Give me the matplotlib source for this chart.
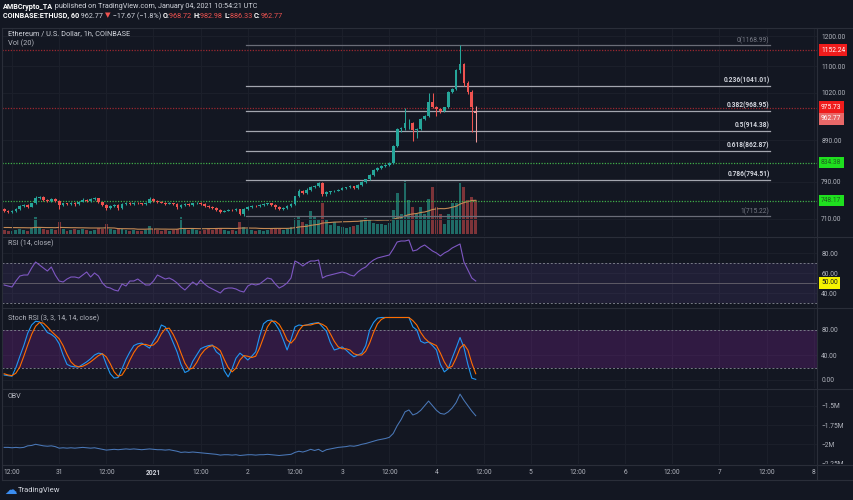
import numpy as np
import matplotlib
matplotlib.use("Agg")
import matplotlib.pyplot as plt
from matplotlib.lines import Line2D
from matplotlib.patches import Rectangle
from matplotlib.transforms import offset_copy

plt.rcParams['font.family'] = ['Roboto', 'DejaVu Sans']

# ---------------- data (hourly candles, hours relative to 2020-12-30 12:00 UTC) ----------------
first_hour = -2
opens = [731, 726, 724, 727, 730, 736, 738, 735, 742, 754, 756, 750, 747, 752, 748, 738, 742, 741, 744, 740,
         746, 750, 747, 751, 753, 745, 739, 733, 737, 739, 732, 740, 743, 740, 744, 742, 740, 743, 752, 748,
         745, 744, 741, 743, 740, 734, 738, 741, 738, 742, 744, 741, 737, 734, 733, 728, 724, 727, 729, 728,
         730, 720, 730, 734, 737, 736, 739, 740, 742, 739, 735, 731, 733, 736, 740, 757, 770, 765, 772, 777,
         780, 787, 762, 766, 768, 770, 772, 775, 777, 780, 776, 782, 790, 795, 805, 818, 822, 826, 829, 833,
         875, 918, 921, 934, 936, 915, 918, 947, 953, 993, 979, 972, 968, 978, 1022, 1030, 1088, 1106, 1049, 1022,
         968.72]
highs = [733, 728, 729, 732, 738, 740, 740, 744, 757, 759, 757, 752, 754, 754, 750, 744, 744, 746, 746, 748,
         753, 752, 753, 755, 754, 746, 740, 739, 741, 741, 742, 745, 745, 746, 746, 744, 745, 755, 753, 750,
         747, 746, 745, 744, 742, 740, 743, 742, 744, 746, 745, 742, 738, 736, 734, 730, 729, 731, 731, 732,
         731, 732, 736, 739, 739, 741, 742, 744, 744, 741, 737, 735, 738, 742, 759, 773, 772, 775, 780, 783,
         790, 789, 768, 770, 772, 774, 777, 779, 782, 781, 784, 792, 797, 808, 820, 825, 829, 832, 836, 877,
         922, 925, 976, 945, 938, 922, 949, 956, 1019, 1019, 983, 975, 980, 1025, 1034, 1092, 1168.99, 1112, 1055, 1028,
         982.98]
lows = [724, 721, 722, 725, 728, 734, 733, 734, 740, 751, 748, 745, 746, 746, 731, 736, 739, 739, 737, 739,
        745, 745, 746, 749, 743, 736, 728, 731, 735, 729, 730, 738, 738, 739, 740, 738, 738, 742, 746, 743,
        742, 739, 740, 738, 731, 732, 736, 736, 737, 741, 739, 735, 732, 731, 726, 721, 723, 726, 726, 727,
        718, 715.22, 729, 733, 735, 735, 737, 739, 737, 731, 728, 729, 731, 734, 738, 755, 762, 763, 770, 775,
        778, 757, 759, 763, 766, 768, 771, 773, 775, 773, 774, 780, 788, 793, 803, 815, 820, 823, 826, 831,
        873, 912, 917, 920, 889, 895, 915, 944, 950, 976, 955, 962, 964, 975, 1018, 1027, 1080, 1040, 1015, 910,
        886.33]
closes = [726, 724, 727, 730, 736, 738, 735, 742, 754, 756, 750, 747, 752, 748, 738, 742, 741, 744, 740, 746,
          750, 747, 751, 753, 745, 739, 733, 737, 739, 732, 740, 743, 740, 744, 742, 740, 743, 752, 748, 745,
          744, 741, 743, 740, 734, 738, 741, 738, 742, 744, 741, 737, 734, 733, 728, 724, 727, 729, 728, 730,
          720, 730, 734, 737, 736, 739, 740, 742, 739, 735, 731, 733, 736, 740, 757, 770, 765, 772, 777, 780,
          787, 762, 766, 768, 770, 772, 775, 777, 780, 776, 782, 790, 795, 805, 818, 822, 826, 829, 833, 875,
          918, 921, 934, 936, 915, 918, 947, 953, 993, 979, 972, 968, 978, 1022, 1030, 1088, 1106, 1049, 1022, 980,
          962.77]
volumes = [4, 3, 3, 4, 5, 4, 3, 6, 17, 6, 5, 4, 5, 4, 12, 5, 3, 4, 5, 4,
           5, 4, 3, 4, 6, 5, 10, 5, 4, 6, 5, 4, 3, 4, 3, 3, 4, 8, 5, 4,
           3, 4, 3, 4, 5, 17, 6, 4, 5, 4, 3, 4, 5, 4, 5, 6, 4, 3, 4, 3,
           12, 7, 5, 4, 3, 4, 3, 4, 5, 6, 5, 4, 5, 7, 16, 18, 12, 10, 23, 17,
           14, 31, 14, 9, 12, 8, 7, 6, 7, 8, 9, 14, 16, 14, 11, 10, 10, 9, 11, 24,
           41, 20, 54, 34, 27, 20, 27, 20, 35, 47, 27, 20, 10, 20, 31, 31, 51, 47, 34, 37,
           34]
vol_ma = [6.5, 6.5, 6.4, 6.4, 6.3, 6.3, 6.2, 6.2, 6.6, 6.6, 6.5, 6.4, 6.4, 6.3, 6.6, 6.5, 6.4, 6.3, 6.3, 6.2,
          6.2, 6.1, 6.0, 6.0, 6.0, 6.0, 6.2, 6.1, 6.0, 5.4, 5.3, 5.3, 5.2, 5.2, 4.8, 4.8, 4.8, 5.0, 5.0, 5.0,
          4.9, 4.9, 4.8, 4.8, 4.8, 5.5, 5.5, 5.5, 5.5, 5.4, 5.3, 5.3, 5.4, 5.4, 5.5, 5.6, 5.6, 5.6, 5.5, 5.5,
          5.9, 6.0, 6.0, 5.9, 5.9, 5.6, 5.5, 5.5, 5.5, 5.6, 5.6, 5.6, 5.6, 5.8, 6.3, 7.0, 7.4, 7.7, 8.6, 9.2,
          9.6, 10.9, 11.3, 11.5, 11.9, 12.0, 12.2, 12.3, 12.4, 12.6, 12.7, 13.1, 13.6, 13.9, 14.1, 13.8, 13.9, 14.0, 13.9, 14.6,
          15.9, 16.3, 18.2, 19.4, 20.1, 20.5, 21.5, 22.0, 23.1, 24.5, 25.1, 25.4, 25.3, 25.8, 26.8, 27.7, 29.9, 31.4, 32.4, 33.5,
          33.7]
rsi = [48, 47, 46, 52, 57, 58, 58, 65, 71, 68, 65, 62, 66, 58, 52, 51, 54, 56, 56, 55,
       58, 61, 56, 60, 57, 50, 46, 45, 43, 42, 49, 47, 52, 52, 54, 51, 48, 48, 52, 58,
       56, 54, 55, 53, 50, 46, 43, 47, 51, 48, 53, 49, 46, 44, 42, 40, 44, 45, 45, 44,
       42, 41, 47, 49, 48, 49, 52, 55, 54, 49, 45, 47, 50, 55, 72, 70, 67, 70, 72, 72,
       73, 55, 57, 58, 59, 60, 61, 60, 58, 57, 61, 64, 66, 70, 73, 75, 76, 77, 78, 84,
       91, 92, 92, 93, 82, 83, 86, 88, 85, 82, 80, 77, 80, 82, 85, 87, 89, 71, 63, 55,
       52]
stoch_k = [8, 7, 6, 20, 38, 55, 75, 88, 94, 93, 85, 76, 73, 68, 58, 40, 25, 22, 21, 21,
           25, 29, 34, 40, 43, 42, 25, 10, 3, 4, 18, 33, 45, 55, 58, 59, 55, 51, 62, 72,
           88, 85, 75, 60, 45, 25, 12, 15, 30, 40, 50, 53, 55, 56, 45, 40, 15, 5, 18, 35,
           43, 38, 32, 38, 45, 70, 90, 95, 96, 90, 80, 65, 48, 65, 85, 88, 87, 88, 90, 91,
           92, 85, 78, 60, 48, 50, 53, 48, 42, 37, 40, 43, 55, 80, 92, 99, 100, 100, 100, 100,
           100, 100, 100, 100, 85, 80, 62, 59, 61, 55, 48, 25, 13, 18, 35, 51, 68, 52, 25, 3,
           1]
stoch_d = [10, 8, 7, 11, 21, 38, 56, 73, 86, 92, 91, 85, 78, 72, 66, 55, 41, 29, 23, 21,
           22, 25, 29, 34, 39, 42, 37, 26, 13, 6, 8, 18, 32, 44, 53, 57, 57, 55, 56, 62,
           74, 82, 83, 73, 60, 43, 27, 17, 19, 28, 40, 48, 53, 55, 52, 47, 33, 20, 13, 19,
           32, 39, 38, 36, 38, 51, 68, 85, 94, 94, 89, 78, 64, 59, 66, 79, 87, 88, 88, 90,
           91, 89, 85, 74, 62, 53, 50, 50, 48, 42, 40, 40, 46, 59, 76, 90, 97, 100, 100, 100,
           100, 100, 100, 100, 95, 88, 76, 67, 61, 58, 55, 43, 29, 19, 22, 35, 51, 57, 48, 27,
           10]
obv = [-2.04, -2.04, -2.045, -2.04, -2.045, -2.04, -2.02, -2.015, -2.0, -2.01, -2.02, -2.025, -2.02, -2.03, -2.05, -2.045, -2.05, -2.045, -2.05, -2.045,
       -2.04, -2.045, -2.05, -2.045, -2.055, -2.065, -2.075, -2.07, -2.065, -2.07, -2.065, -2.06, -2.065, -2.06, -2.065, -2.07, -2.065, -2.06, -2.065, -2.07,
       -2.07, -2.075, -2.07, -2.08, -2.09, -2.105, -2.1, -2.105, -2.1, -2.105, -2.11, -2.115, -2.12, -2.125, -2.13, -2.14, -2.135, -2.135, -2.14, -2.135,
       -2.145, -2.14, -2.135, -2.135, -2.14, -2.135, -2.135, -2.13, -2.135, -2.14, -2.145, -2.14, -2.135, -2.13, -2.105, -2.09, -2.1, -2.085, -2.065, -2.08,
       -2.065, -2.095, -2.07, -2.06, -2.05, -2.04, -2.035, -2.03, -2.02, -2.025, -2.015, -2.0, -1.99, -1.975, -1.96, -1.945, -1.935, -1.925, -1.91, -1.86,
       -1.76, -1.68, -1.58, -1.555, -1.62, -1.6, -1.56, -1.5, -1.44, -1.5, -1.56, -1.6, -1.61, -1.58, -1.53, -1.46, -1.35, -1.43, -1.5, -1.57,
       -1.63]

time_ticks = [0, 12, 24, 36, 48, 60, 72, 84, 96, 108, 120, 132, 144, 156, 168, 180, 192, 204]
time_labels = ['12:00', '31', '12:00', '2021', '12:00', '2', '12:00', '3', '12:00', '4',
               '12:00', '5', '12:00', '6', '12:00', '7', '12:00', '8']
price_ticks = [710, 790, 890, 1020, 1100, 1200]
fib_names = ['0', '0.236', '0.382', '0.5', '0.618', '0.786', '1']
fib_prices = [1168.99, 1041.01, 968.95, 914.38, 862.87, 794.51, 715.22]
resistance_levels = [1152.24, 975.73]
support_levels = [834.38, 748.17]
rsi_ticks = [40, 60, 80]
stoch_ticks = [0, 40, 80]
obv_ticks = [-2.25, -2.0, -1.75, -1.5]
obv_tick_labels = ['\u22122.25M', '\u22122M', '\u22121.75M', '\u22121.5M']

# ---------------- style ----------------
BG = '#131722'
GRID = '#1c202b'
SEP = '#2a2e39'
TXT = '#b2b5be'
UP = '#26a69a'
DN = '#ef5350'
W, H = 854, 500
FS = 4.8

fig = plt.figure(figsize=(W / 100, H / 100), dpi=100, facecolor=BG)


def rect(x0, y0, x1, y1):
    return [x0 / W, 1 - y1 / H, (x1 - x0) / W, (y1 - y0) / H]


X0, X1 = 2, 817
hours = np.arange(len(closes)) + first_hour
xlim = ((X0 - 12) / 3.93, (X1 - 12) / 3.93)

ax_v = fig.add_axes(rect(X0, 28, X1, 236))
ax_p = fig.add_axes(rect(X0, 28, X1, 236))
ax_r = fig.add_axes(rect(X0, 237, X1, 307))
ax_s = fig.add_axes(rect(X0, 309, X1, 388))
ax_o = fig.add_axes(rect(X0, 390, X1, 464))

for a in (ax_v, ax_p, ax_r, ax_s, ax_o):
    a.set_facecolor(BG)
    a.set_xlim(*xlim)
    for sp in a.spines.values():
        sp.set_visible(False)
    a.tick_params(axis='both', length=0, colors=TXT, labelsize=FS)
    a.set_xticks(time_ticks)
    a.set_xticklabels([])
    for t in time_ticks:
        a.axvline(t, color=GRID, lw=0.7, zorder=0)
ax_p.patch.set_visible(False)
ax_v.set_yticks([])

# ---------- volume ----------
o = np.array(opens); c = np.array(closes); hi = np.array(highs); lo = np.array(lows)
up = c >= o
vcol = ['#1f6b66' if u else '#7d3439' for u in up]
ax_v.bar(hours, volumes, width=0.74, color=vcol, zorder=2)
ax_v.plot(hours, vol_ma, color='#c48a55', lw=0.8, zorder=3)
ax_v.set_ylim(-2, 206)

# ---------- price ----------
ax_p.set_yscale('log')
ax_p.set_ylim(675.8, 1228.2)
ax_p.yaxis.tick_right()
ax_p.yaxis.set_minor_locator(matplotlib.ticker.NullLocator())
ax_p.set_yticks(price_ticks)
ax_p.set_yticklabels([f'{p:.2f}' for p in price_ticks])
ax_p.tick_params(axis='y', pad=3)
for p in price_ticks:
    ax_p.axhline(p, color=GRID, lw=0.7, zorder=0)

for p in resistance_levels:
    ax_p.axhline(p, color='#9c2730', lw=0.9, ls=(0, (1, 1.2)), zorder=1)
for p in support_levels:
    ax_p.axhline(p, color='#3fae49', lw=0.9, ls=(0, (1, 1.2)), zorder=1)

fib_x0, fib_x1 = 59.5, 193.0
for name, p in zip(fib_names, fib_prices):
    edge = name in ('0', '1')
    ax_p.plot([fib_x0, fib_x1], [p, p], color='#6a6d78' if edge else '#a3a6af', lw=0.9, zorder=1.5)
    ax_p.annotate(f'{name}({p:.2f})', xy=(fib_x1 - 0.2, p), xytext=(0, 0.8), textcoords='offset points',
                  ha='right', va='bottom', fontsize=FS, color='#787b86' if edge else '#d1d4dc',
                  fontweight='normal' if edge else 'bold', zorder=4)

colors = np.where(up, UP, DN).tolist()
colors[-1] = '#ef9a9a'
ax_p.vlines(hours, lo, hi, colors=colors, lw=0.75, zorder=3)
body_lo = np.minimum(o, c)
body_h = np.maximum(np.abs(c - o), body_lo * 0.0015)
ax_p.bar(hours, body_h, bottom=body_lo, width=0.7, color=colors, zorder=3.5)


def tag(ax, y, text, bg, fg='white', dy=0.0):
    tr = offset_copy(ax.get_yaxis_transform(), fig=fig, x=0, y=dy, units='dots')
    ax.text(1 + 4 / 815, y, text, transform=tr, ha='left', va='center',
            fontsize=FS, color=fg, clip_on=False, zorder=10,
            bbox=dict(boxstyle='square,pad=0.35', fc=bg, ec='none'))


tag(ax_p, resistance_levels[0], f'{resistance_levels[0]:.2f}', '#f01c1c')
tag(ax_p, resistance_levels[1], f'{resistance_levels[1]:.2f}', '#f01c1c', dy=1.0)
tag(ax_p, closes[-1], f'{closes[-1]:.2f}', '#e86868', dy=-6.0)
tag(ax_p, support_levels[0], f'{support_levels[0]:.2f}', '#1fe01f', '#1e5e1e')
tag(ax_p, support_levels[1], f'{support_levels[1]:.2f}', '#1fe01f', '#1e5e1e')

# ---------- RSI ----------
ax_r.set_ylim(26, 96)
ax_r.yaxis.tick_right()
ax_r.set_yticks(rsi_ticks)
ax_r.set_yticklabels([f'{v:.2f}' for v in rsi_ticks])
ax_r.tick_params(axis='y', pad=3)
for v in rsi_ticks:
    ax_r.axhline(v, color=GRID, lw=0.7, zorder=0)
ax_r.axhspan(30, 70, color='#7e57c2', alpha=0.13, lw=0, zorder=0.5)
ax_r.axhline(70, color='#787b86', lw=0.7, ls=(0, (2, 2)), zorder=1)
ax_r.axhline(30, color='#787b86', lw=0.7, ls=(0, (2, 2)), zorder=1)
ax_r.axhline(50, color='#5d5a66', lw=0.7, zorder=1)
ax_r.plot(hours, rsi, color='#7e57c2', lw=0.8, zorder=3)
tag(ax_r, 50, '50.00', '#f5f200', '#131722')

# ---------- Stoch RSI ----------
ax_s.set_ylim(-12.8, 113.6)
ax_s.yaxis.tick_right()
ax_s.set_yticks(stoch_ticks)
ax_s.set_yticklabels([f'{v:.2f}' for v in stoch_ticks])
ax_s.tick_params(axis='y', pad=3)
for v in stoch_ticks:
    ax_s.axhline(v, color=GRID, lw=0.7, zorder=0)
ax_s.axhspan(20, 80, color='#8e24aa', alpha=0.24, lw=0, zorder=0.5)
ax_s.axhline(80, color='#787b86', lw=0.7, ls=(0, (2, 2)), zorder=1)
ax_s.axhline(20, color='#787b86', lw=0.7, ls=(0, (2, 2)), zorder=1)
ax_s.plot(hours, stoch_k, color='#2196f3', lw=0.8, zorder=3)
ax_s.plot(hours, stoch_d, color='#ff6d00', lw=0.8, zorder=3)

# ---------- OBV ----------
ax_o.set_ylim(-2.2552, -1.2966)
ax_o.yaxis.tick_right()
ax_o.set_yticks(obv_ticks)
ax_o.set_yticklabels(obv_tick_labels)
ax_o.tick_params(axis='y', pad=3)
for v in obv_ticks:
    ax_o.axhline(v, color=GRID, lw=0.7, zorder=0)
ax_o.plot(hours, obv, color='#4a78b8', lw=0.75, zorder=3)

ax_o.set_xticklabels(time_labels)
ax_o.tick_params(axis='x', pad=3.5, labelsize=FS, colors=TXT)
for lab in ax_o.get_xticklabels():
    if lab.get_text() == '2021':
        lab.set_fontweight('bold')
        lab.set_color('#d1d4dc')

# cover lower part of the clipped -2.25M label
fig.add_artist(Rectangle((X1 / W, 1 - 468 / H), (W - X1) / W, 4 / H, transform=fig.transFigure,
                         fc=BG, ec='none', zorder=5))

# ---------- separators ----------
def hline(y, x0=X0, x1=852):
    fig.add_artist(Line2D([x0 / W, x1 / W], [1 - y / H, 1 - y / H], color=SEP, lw=0.8, zorder=6))


for y in (28, 236.5, 308, 389, 464.5, 480):
    hline(y)
fig.add_artist(Line2D([X1 / W, X1 / W], [1 - 480 / H, 1 - 28 / H], color=SEP, lw=0.8, zorder=6))
fig.add_artist(Line2D([X0 / W, X0 / W], [1 - 480 / H, 1 - 28 / H], color=SEP, lw=0.8, zorder=6))

# ---------- texts ----------
renderer = fig.canvas.get_renderer()


def seg_text(x, y, segs, size=5.2):
    for s, col, wt in segs:
        t = fig.text(x / W, 1 - y / H, s, color=col, fontsize=size, fontweight=wt, ha='left', va='center')
        x += t.get_window_extent(renderer=renderer).width


seg_text(3, 7, [('AMBCrypto_TA', '#ffffff', 'bold'),
                (' published on TradingView.com, January 04, 2021 10:54:21 UTC', '#d1d4dc', 'normal')])
seg_text(3, 16, [('COINBASE:ETHUSD, 60', '#ffffff', 'bold'),
                 (' 962.77 ', '#d1d4dc', 'normal'),
                 ('\u25bc', '#ef5350', 'normal'),
                 (' \u221217.67 (\u22121.8%) ', '#d1d4dc', 'normal'),
                 ('O:', '#ffffff', 'bold'), ('968.72 ', '#ef5350', 'normal'),
                 ('H:', '#ffffff', 'bold'), ('982.98 ', '#ef5350', 'normal'),
                 ('L:', '#ffffff', 'bold'), ('886.33 ', '#ef5350', 'normal'),
                 ('C:', '#ffffff', 'bold'), ('962.77', '#ef5350', 'normal')])

fig.text(8 / W, 1 - 34 / H, 'Ethereum / U.S. Dollar, 1h, COINBASE', color='#d1d4dc', fontsize=5.3, va='center')
fig.text(8 / W, 1 - 43 / H, 'Vol (20)', color=TXT, fontsize=5.3, va='center')
fig.text(8 / W, 1 - 243 / H, 'RSI (14, close)', color=TXT, fontsize=5.1, va='center')
fig.text(8 / W, 1 - 318 / H, 'Stoch RSI (3, 3, 14, 14, close)', color=TXT, fontsize=5.1, va='center')
fig.text(8 / W, 1 - 396 / H, 'OBV', color=TXT, fontsize=5.1, va='center')

fig.text(4 / W, 1 - 490 / H, '\u2601', color='#3b8df0', fontsize=9, va='center', family='DejaVu Sans')
fig.text(18 / W, 1 - 490 / H, 'TradingView', color='#d1d4dc', fontsize=5.5, va='center')

fig.savefig('out.png', dpi=100, facecolor=BG)
